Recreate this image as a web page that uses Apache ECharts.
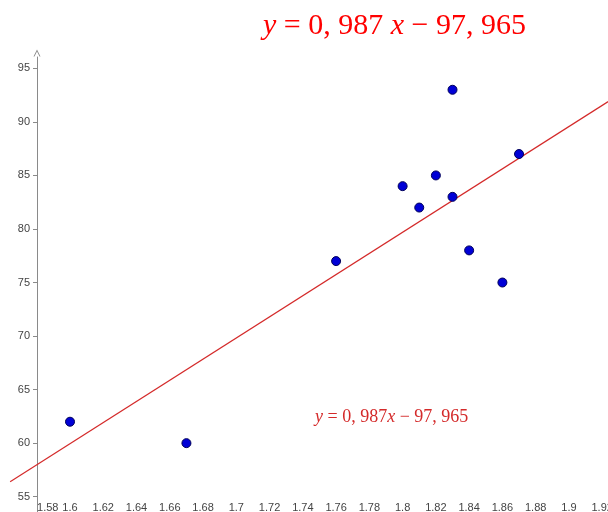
<!DOCTYPE html>
<html>
<head>
<meta charset="utf-8">
<script src="https://cdn.jsdelivr.net/npm/echarts@6/dist/echarts.min.js"></script>
<style>html,body{margin:0;padding:0;background:#fff;}#c{width:608px;height:512px;}</style>
</head>
<body>
<div id="c"></div>
<script>
const xValues = [1.6, 1.67, 1.76, 1.8, 1.81, 1.82, 1.83, 1.83, 1.84, 1.86, 1.87];
const yValues = [62, 60, 77, 84, 82, 85, 93, 83, 78, 75, 87];
const xTicks = [1.58, 1.6, 1.62, 1.64, 1.66, 1.68, 1.7, 1.72, 1.74, 1.76, 1.78, 1.8, 1.82, 1.84, 1.86, 1.88, 1.9, 1.92];
const yTicks = [55, 60, 65, 70, 75, 80, 85, 90, 95];
const slope = 98.7;
const intercept = -97.965;
const lineXRange = [1.564, 1.9236];

const points = xValues.map((x, i) => [x, yValues[i]]);
const fitLine = lineXRange.map(x => [x, slope * x + intercept]);

const chart = echarts.init(document.getElementById('c'), null, {renderer: 'canvas'});
chart.setOption({
  animation: false,
  backgroundColor: '#ffffff',
  title: [
    {
      left: 258, top: 6,
      text: '{i|y}{r| = 0, 987 }{i|x}{r| − 97, 965}',
      textStyle: {
        fontWeight: 'normal',
        rich: {
          i: {fontFamily: 'Liberation Serif', fontStyle: 'italic', fontWeight: 'normal', fontSize: 30, color: '#ff0000'},
          r: {fontFamily: 'Liberation Serif', fontWeight: 'normal', fontSize: 30, color: '#ff0000'}
        }
      }
    },
    {
      left: 310, top: 403,
      text: '{i|y}{r| = 0, 987}{i|x}{r| − 97, 965}',
      textStyle: {
        fontWeight: 'normal',
        rich: {
          i: {fontFamily: 'Liberation Serif', fontStyle: 'italic', fontWeight: 'normal', fontSize: 18, color: '#d42a2a'},
          r: {fontFamily: 'Liberation Serif', fontWeight: 'normal', fontSize: 18, color: '#d42a2a'}
        }
      }
    }
  ],
  grid: {left: 0, right: 0, top: 57, bottom: 0, containLabel: false, outerBoundsMode: 'none'},
  xAxis: {
    type: 'value',
    min: 1.5579, max: 1.9235,
    axisLine: {show: false},
    axisTick: {show: false},
    splitLine: {show: false},
    axisLabel: {
      inside: true,
      margin: -1,
      customValues: xTicks,
      color: '#444',
      fontSize: 11,
      fontFamily: 'Liberation Sans',
      formatter: v => {
        const s = String(+v.toFixed(2));
        return Math.abs(v - 1.58) < 1e-6 ? '{f|' + s + '}' : s;
      },
      rich: {f: {padding: [0, 0, 0, 22], color: '#444', fontSize: 11, fontFamily: 'Liberation Sans'}}
    }
  },
  yAxis: {
    type: 'value',
    min: 53.57, max: 96.06,
    position: 'left',
    offset: -37,
    axisLine: {
      show: true,
      lineStyle: {color: '#8a8a8a', width: 1},
      symbol: ['none', 'path://M0,10 L5,0 L10,10 L8.6,10 L5,2.8 L1.4,10 Z'],
      symbolSize: [7, 8],
      symbolOffset: [0, 4]
    },
    axisTick: {show: true, inside: false, length: 4, customValues: yTicks, lineStyle: {color: '#8a8a8a'}},
    splitLine: {show: false},
    axisLabel: {
      customValues: yTicks,
      margin: 7,
      color: '#444',
      fontSize: 11,
      fontFamily: 'Liberation Sans'
    }
  },
  series: [
    {
      type: 'line',
      data: fitLine,
      symbol: 'none',
      lineStyle: {color: '#d42a2a', width: 1.2},
      z: 2
    },
    {
      type: 'scatter',
      data: points,
      symbolSize: 9,
      itemStyle: {color: '#0000d6', borderColor: '#00005a', borderWidth: 1, opacity: 1},
      z: 3
    }
  ]
});
</script>
</body>
</html>
